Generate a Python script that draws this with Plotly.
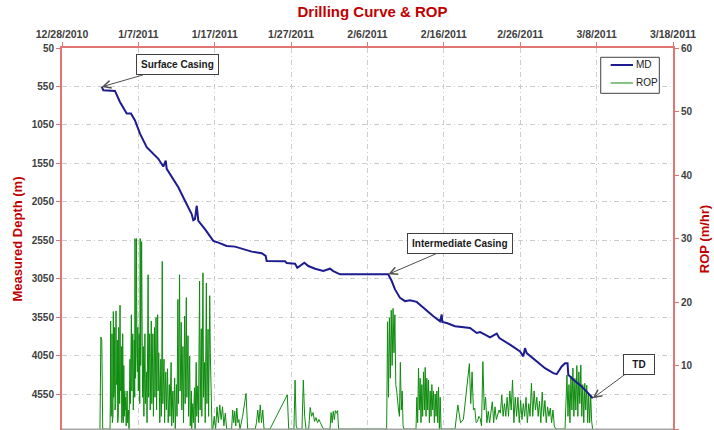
import numpy as np
import pandas as pd
import plotly.graph_objects as go

FONT = "Liberation Sans, Arial, sans-serif"
SPUD = pd.Timestamp("2010-12-28")

# ---------------- data ----------------
# top axis ticks
x_tick_days = [0, 10, 20, 30, 40, 50, 60, 70, 80]
x_tick_labels = ["12/28/2010", "1/7/2011", "1/17/2011", "1/27/2011", "2/6/2011",
                 "2/16/2011", "2/26/2011", "3/8/2011", "3/18/2011"]
depth_ticks = [50, 550, 1050, 1550, 2050, 2550, 3050, 3550, 4050, 4550]
rop_ticks = [0, 10, 20, 30, 40, 50, 60]

# Measured depth curve (days since 12/28/2010, metres)
md_day = [5.20, 5.41, 6.94, 7.59, 8.47, 9.03, 9.56, 10.21, 11.09, 11.74,
          12.61, 13.26, 13.58, 13.71, 14.36, 15.23, 16.10, 16.98, 17.19, 17.41,
          17.64, 17.85, 18.72, 19.38, 19.81, 20.47, 21.56, 22.65, 23.53, 24.84,
          26.15, 26.67, 26.80, 29.20, 29.42, 30.51, 30.81, 31.39, 31.73, 32.25,
          33.13, 34.21, 35.09, 35.52, 36.40, 42.72, 43.17, 43.60, 44.26, 44.91,
          45.56, 46.44, 47.31, 48.62, 49.49, 49.72, 49.79, 50.37, 51.46, 52.54,
          53.42, 54.30, 54.74, 55.39, 56.04, 56.92, 57.26, 58.66, 59.97, 60.40,
          60.62, 60.84, 62.15, 63.24, 64.33, 64.77, 65.43, 65.86, 66.19, 66.29,
          66.95, 67.82, 68.70, 69.49]
md_depth = [555, 598, 607, 751, 902, 902, 990, 1163, 1338, 1403,
            1489, 1590, 1512, 1620, 1730, 1860, 2034, 2207, 2286, 2272,
            2099, 2295, 2403, 2490, 2556, 2578, 2621, 2630, 2656, 2695,
            2716, 2751, 2817, 2821, 2843, 2852, 2904, 2860, 2839, 2882,
            2917, 2947, 2917, 2947, 2990, 2990, 3077, 3186, 3296, 3339,
            3326, 3348, 3426, 3534, 3600, 3512, 3609, 3622, 3665, 3678,
            3687, 3752, 3739, 3773, 3808, 3760, 3817, 3904, 3991, 4056,
            3948, 4013, 4121, 4209, 4274, 4287, 4187, 4144, 4144, 4295,
            4360, 4426, 4513, 4600]

# ROP logs (m/hr); each run is logged at regular intervals between its first and last day
rop_s1 = [0, 14.5, 14.0, 0]
rop_s2a = [0, 4, 17, 2, 12, 3, 15, 1, 9, 2, 18.5, 5, 11, 6, 16, 3, 10, 4, 18.6, 7,
           12, 8, 14, 1, 6, 2, 16, 5, 9, 4, 19.5, 6, 12, 7, 13, 1, 8, 2, 15, 3]
rop_s2b = [1, 10, 2, 6, 3, 5, 0.5, 4, 6, 1, 2, 3, 0, 5, 11, 4, 9, 18, 6, 12, 15, 3,
           8, 14, 5]
rop_s2c = [30, 8, 14, 30, 12, 9, 16, 6, 11, 15, 4, 30, 10, 18, 29.5, 22, 5, 9]
rop_s2d = [13, 2, 8, 15, 4, 6, 9, 1, 10, 24.3, 5, 12, 15, 3, 9, 17, 4, 11, 15, 2,
           7, 16, 5, 12, 17.6, 3, 10, 18, 6, 12, 8, 1, 5, 11, 2]
rop_s2e = [6, 26.4, 4, 8, 11, 1, 6, 9, 3, 7, 9.5, 1, 4, 7, 2, 5, 10.5, 0.5, 3, 6,
           1, 4, 8, 0, 3, 7, 2]
rop_s2f = [9, 20.4, 4, 13, 24.3, 6, 11, 16.8, 3, 8, 13, 1, 9, 17.8, 4, 12, 20.7, 5,
           9, 14.7, 2, 7, 11.5, 0.5, 3, 6]
rop_s2g = [0, 2, 4, 1, 3, 6.5, 0, 5, 10.5, 2, 4, 6.8, 1, 12, 23.3, 3, 9, 15.8, 2, 14,
           24.6, 5, 8, 10.5, 1, 13, 23, 4, 9, 15.7, 2, 11, 21, 12, 6, 2, 0]
rop_s3 = [0, 2, 0, 3.5, 1, 3.8, 1.5, 3.5, 0.5, 2.5, 0]
rop_s4 = [0, 3, 1, 2.8, 0.5, 3.3, 1, 1.5, 0]
rop_s5 = [2, 4, 5.6, 0]
rop_s6 = [0, 1, 3, 1, 3.8, 1, 3, 0]
rop_s7 = [0]
rop_s8 = [5.4, 0]
rop_s9 = [0, 7.7, 0.5, 0]
rop_s10 = [0, 7.7, 2, 0]
rop_s11 = [0, 3.4, 2, 2.6, 1.2, 1.8, 1, 1.5, 1, 0.5, 0]
rop_s12 = [0, 2.6, 1, 2.8, 1.5, 2.9, 2.5, 2.9, 0]
rop_s13 = [0, 16.9, 5, 17.5, 8, 18.7, 10, 19, 12, 18, 7, 6, 4, 3, 2, 10.5, 3, 6, 0.5, 0]
rop_s14 = [0, 5, 1, 9.6, 3, 8, 1, 7, 2, 9, 3, 9.7, 2, 8, 3, 7.7, 1, 6, 2, 7, 3, 6, 1,
           5.5, 2, 6, 1, 6.6, 0, 5, 0]
rop_s15 = [0, 3.8, 1, 1.5]
rop_s16 = [10.3, 4, 9, 3, 3.3, 1, 1.2, 2, 1.7, 0.5, 10.6, 3, 5, 1, 2.8, 1, 3, 4.3, 1,
           3.5, 1.5, 2.5, 3, 2.5, 5.4, 2, 4, 2, 5, 2, 6, 3, 7.7, 1, 5, 2, 5, 1, 4.5,
           1.5, 4, 2, 5, 1, 4, 2, 7.2, 2, 6, 3, 5, 2, 4.4, 1, 5.8, 2, 4.5, 1, 3.5, 2,
           3.3, 1, 3, 0.5, 0]
rop_s17 = [0, 5, 8.5, 2, 7, 1, 8.3, 3, 9.6, 2, 8, 3, 10, 2, 9, 4, 10.1, 2, 7, 1,
           7.2, 3, 6.9, 1, 5.5, 1, 5.3, 1.2, 0]

# (first day, last day) of each ROP run
rop_runs = [(4.97, 5.33, rop_s1),
            (6.285, 7.99, rop_s2a), (8.03, 9.52, rop_s2b), (9.56, 10.61, rop_s2c),
            (10.65, 13.01, rop_s2d), (13.05, 15.06, rop_s2e), (15.10, 16.94, rop_s2f),
            (16.98, 19.64, rop_s2g),
            (19.75, 21.56, rop_s3), (22.21, 23.30, rop_s4), (23.65, 24.31, rop_s5),
            (25.30, 26.45, rop_s6), (27.23, 27.23, rop_s7), (29.50, 29.68, rop_s8),
            (30.37, 30.81, rop_s9), (31.42, 31.95, rop_s10), (32.30, 34.22, rop_s11),
            (35.09, 36.22, rop_s12), (42.51, 44.78, rop_s13), (46.35, 49.63, rop_s14),
            (51.46, 52.55, rop_s15), (53.34, 64.64, rop_s16), (65.86, 69.48, rop_s17)]


def to_dates(days):
    return SPUD + pd.to_timedelta(np.asarray(days, dtype=float), unit="D")


rop_day, rop_val = [], []
for d0, d1, vals in rop_runs:
    rop_day.extend(np.linspace(d0, d1, len(vals)))
    rop_val.extend(vals)

md_x = to_dates(md_day)
rop_x = to_dates(rop_day)

RED = "#c00000"
AXRED = "#e07575"
TICKC = "#404040"
GRID = "#cccccc"
DASH = "5px,3px,1px,3px"
MD_COLOR = "#1c1c8f"
ROP_COLOR = "#0e8c0e"

fig = go.Figure()
fig.add_trace(go.Scatter(x=rop_x, y=rop_val, mode="lines", name="ROP",
                         line=dict(color=ROP_COLOR, width=1), yaxis="y"))
fig.add_trace(go.Scatter(x=md_x, y=md_depth, mode="lines", name="MD",
                         line=dict(color=MD_COLOR, width=2), yaxis="y2"))

tickfont = dict(family=FONT, size=10, color=TICKC, weight="bold")
titlefont = dict(family=FONT, size=13, color=RED, weight="bold")

# hand-made legend box (paper coordinates)
lg_x0, lg_x1, lg_y0, lg_y1 = 0.8817, 0.9776, 0.8814, 0.9757
lg_line_x0, lg_line_x1 = 0.898, 0.9345
lg_row = [0.9555, 0.9084]

shapes = [
    dict(type="line", xref="paper", yref="paper", x0=0, x1=1, y0=0, y1=0,
         line=dict(color="#a6a6a6", width=3), layer="above"),
    dict(type="rect", xref="paper", yref="paper", x0=lg_x0, x1=lg_x1, y0=lg_y0, y1=lg_y1,
         line=dict(color="#404040", width=1), fillcolor="white", layer="above"),
    dict(type="line", xref="paper", yref="paper", x0=lg_line_x0, x1=lg_line_x1,
         y0=lg_row[0], y1=lg_row[0], line=dict(color=MD_COLOR, width=2), layer="above"),
    dict(type="line", xref="paper", yref="paper", x0=lg_line_x0, x1=lg_line_x1,
         y0=lg_row[1], y1=lg_row[1], line=dict(color=ROP_COLOR, width=1), layer="above"),
]

fig.update_layout(
    width=714, height=430,
    margin=dict(l=62, r=41, t=48, b=0),
    paper_bgcolor="white", plot_bgcolor="white",
    font=dict(family=FONT),
    showlegend=False,
    title=dict(text="Drilling Curve & ROP", x=0.5217, xanchor="center",
               y=0.972, yanchor="middle", xref="container", yref="container",
               font=dict(family=FONT, size=15, color=RED, weight="bold")),
    xaxis=dict(type="date", side="top",
               range=[to_dates([0])[0], to_dates([80])[0]],
               tickvals=list(to_dates(x_tick_days)), ticktext=x_tick_labels,
               showgrid=True, gridcolor=GRID, griddash=DASH, gridwidth=1,
               showline=True, linecolor=AXRED, linewidth=2,
               ticks="outside", ticklen=4, tickcolor=AXRED,
               tickfont=dict(family=FONT, size=10.5, color=TICKC, weight="bold"),
               zeroline=False),
    yaxis=dict(side="right", range=[-0.15, 60], tickvals=rop_ticks,
               showgrid=False, zeroline=False,
               showline=True, linecolor=AXRED, linewidth=2,
               ticks="outside", ticklen=4, tickcolor=AXRED, tickfont=tickfont,
               title=dict(text="ROP (m/hr)", font=titlefont, standoff=8)),
    yaxis2=dict(overlaying="y", side="left", range=[5012, 50], tickvals=depth_ticks,
                showgrid=True, gridcolor=GRID, griddash=DASH, gridwidth=1,
                zeroline=False, showline=True, linecolor=AXRED, linewidth=2,
                ticks="outside", ticklen=4, tickcolor=AXRED, tickfont=tickfont,
                title=dict(text="Measured Depth (m)", font=titlefont, standoff=6)),
    shapes=shapes,
)

leg_font = dict(family=FONT, size=10, color="#202020")
for label, yrow in zip(["MD", "ROP"], lg_row):
    fig.add_annotation(x=0.936, y=yrow, xref="paper", yref="paper", text=label,
                       showarrow=False, xanchor="left", yanchor="middle", font=leg_font)

ann_font = dict(family=FONT, size=10, color="#1a1a1a", weight="bold")
common = dict(xref="x", yref="y2", showarrow=True, arrowhead=5, arrowsize=1.5,
              arrowwidth=1, arrowcolor="#505050", bgcolor="white",
              bordercolor="#404040", borderwidth=1, borderpad=4, font=ann_font)
fig.add_annotation(x=md_x[0], y=md_depth[0], text="Surface Casing",
                   ax=76, ay=-22, **common)
fig.add_annotation(x=md_x[45], y=md_depth[45], text="Intermediate Casing",
                   ax=72, ay=-31, **common)
fig.add_annotation(x=md_x[-1], y=md_depth[-1], text="TD", width=22,
                   ax=46, ay=-34, **common)

fig.write_html("out.html", config={"displayModeBar": False},
               post_script="document.body.style.margin='0';document.body.style.overflow='hidden';")
